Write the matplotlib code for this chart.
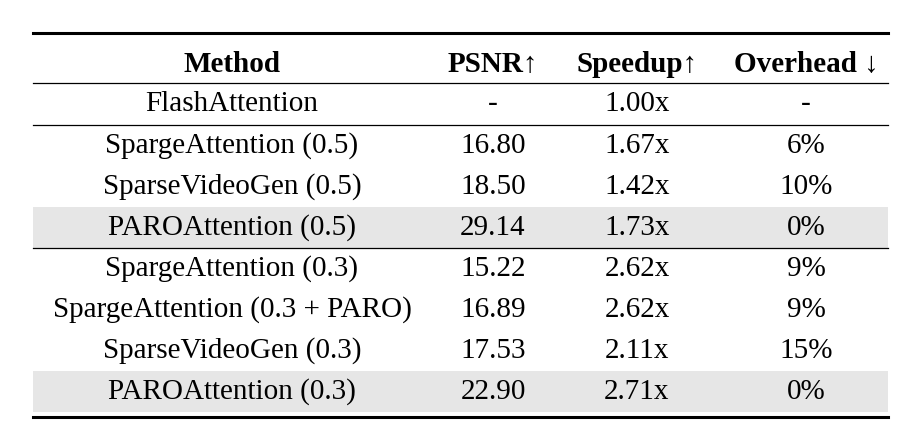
import matplotlib
matplotlib.use("Agg")
import matplotlib.pyplot as plt
from matplotlib.patches import Rectangle

headers = ["Method", "PSNR↑", "Speedup↑", "Overhead ↓"]
methods = ["FlashAttention", "SpargeAttention (0.5)", "SparseVideoGen (0.5)", "PAROAttention (0.5)",
           "SpargeAttention (0.3)", "SpargeAttention (0.3 + PARO)", "SparseVideoGen (0.3)", "PAROAttention (0.3)"]
psnr = ["-", "16.80", "18.50", "29.14", "15.22", "16.89", "17.53", "22.90"]
speedup = ["1.00x", "1.67x", "1.42x", "1.73x", "2.62x", "2.62x", "2.11x", "2.71x"]
overhead = ["-", "6%", "10%", "0%", "9%", "9%", "15%", "0%"]
shaded = [False, False, False, True, False, False, False, True]

W, H = 920, 428
fig = plt.figure(figsize=(W/100, H/100), dpi=100)
ax = fig.add_axes([0, 0, 1, 1])
ax.set_xlim(0, W); ax.set_ylim(H, 0); ax.axis("off")

xs = [232, 493, 637, 806]
x0, x1 = 33, 888
font = dict(family="Liberation Serif", fontsize=21, ha="center", va="center")

ax.plot([x0, x1], [33, 33], color="black", lw=2.2)
ax.plot([x0, x1], [83, 83], color="black", lw=0.9)
ax.plot([x0, x1], [125, 125], color="black", lw=0.9)
ax.plot([x0, x1], [248, 248], color="black", lw=0.9)
ax.plot([x0, x1], [417, 417], color="black", lw=2.2)

for x, h in zip(xs, headers):
    ax.text(x, 64, h, fontweight="bold", **font)

ys = [104, 146, 187, 228, 269, 310, 351, 392]
for i, y in enumerate(ys):
    if shaded[i]:
        ax.add_patch(Rectangle((x0, y - 21), x1 - x0, 41, color="#e6e6e6", lw=0, zorder=0))
    for x, v in zip(xs, [methods[i], psnr[i], speedup[i], overhead[i]]):
        ax.text(x, y, v, **font)

fig.savefig("out.png", dpi=100)
